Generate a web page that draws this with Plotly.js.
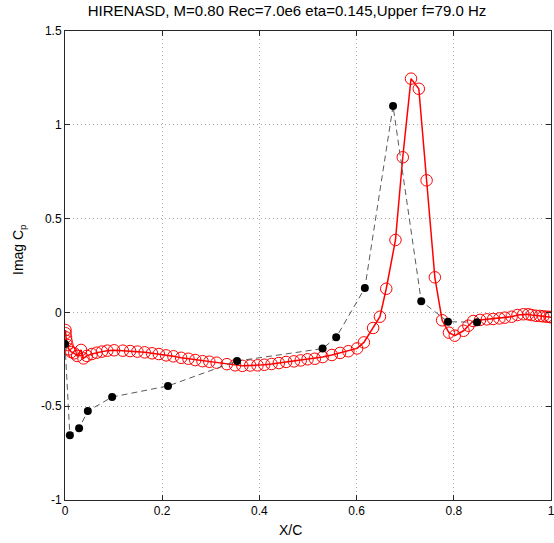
<!DOCTYPE html>
<html>
<head>
<meta charset="utf-8">
<script src="https://cdn.plot.ly/plotly-3.0.1.min.js"></script>
<style>html,body{margin:0;padding:0;background:#fff;}#chart{width:554px;height:543px;}</style>
</head>
<body>
<div id="chart"></div>
<script>
// Experimental data (black filled circles, dashed)
const expX = [0.000, 0.010, 0.029, 0.047, 0.097, 0.212, 0.354, 0.530, 0.558, 0.617, 0.675, 0.733, 0.788, 0.848];
const expY = [-0.168, -0.655, -0.617, -0.526, -0.451, -0.392, -0.259, -0.193, -0.133, 0.130, 1.100, 0.060, -0.050, -0.052];

// Computed data (red open circles, solid)
const cfdX = [0.001, 0.001, 0.002, 0.003, 0.005, 0.008, 0.013, 0.019, 0.025, 0.033, 0.038, 0.045, 0.055, 0.065, 0.076, 0.087, 0.101,
  0.119, 0.134, 0.149, 0.164, 0.179, 0.193, 0.208, 0.223, 0.239, 0.254, 0.268, 0.283, 0.297, 0.312, 0.333,
  0.350, 0.365, 0.381, 0.396, 0.410, 0.425, 0.440, 0.455, 0.471, 0.485, 0.499, 0.514, 0.530, 0.549, 0.566, 0.583,
  0.601, 0.615, 0.634, 0.648, 0.661, 0.680, 0.695, 0.712, 0.728, 0.744, 0.761, 0.776, 0.790, 0.802, 0.820, 0.830,
  0.840, 0.854, 0.868, 0.881, 0.894, 0.905, 0.919, 0.931, 0.943, 0.953, 0.960, 0.969, 0.977, 0.984, 0.991, 0.997, 1.000];
const cfdY = [-0.094, -0.111, -0.133, -0.152, -0.174, -0.197, -0.211, -0.218, -0.232, -0.200, -0.245, -0.232, -0.222, -0.215, -0.209, -0.204, -0.202,
  -0.204, -0.206, -0.209, -0.213, -0.218, -0.222, -0.229, -0.234, -0.242, -0.247, -0.254, -0.260, -0.263, -0.268, -0.276,
  -0.282, -0.285, -0.283, -0.282, -0.279, -0.275, -0.270, -0.264, -0.261, -0.256, -0.250, -0.247, -0.238, -0.227, -0.216, -0.207,
  -0.192, -0.160, -0.083, -0.023, 0.126, 0.386, 0.827, 1.246, 1.192, 0.704, 0.187, -0.042, -0.108, -0.124, -0.098, -0.071,
  -0.046, -0.040, -0.037, -0.035, -0.032, -0.028, -0.023, -0.014, -0.010, -0.010, -0.014, -0.018, -0.019, -0.021, -0.023, -0.024, -0.026];

const xTicks = [0, 0.2, 0.4, 0.6, 0.8, 1];
const xTickText = ['0', '0.2', '0.4', '0.6', '0.8', '1'];
const yTicks = [-1, -0.5, 0, 0.5, 1, 1.5];
const yTickText = ['-1', '-0.5', '0', '0.5', '1', '1.5'];

const FONT = 'Liberation Sans, Arial, sans-serif';

const traces = [
  {
    x: cfdX, y: cfdY, type: 'scatter', mode: 'lines+markers',
    line: {color: 'rgb(255,0,0)', width: 1.5},
    marker: {symbol: 'circle-open', size: 11.5, color: 'rgb(255,0,0)', line: {width: 1, color: 'rgb(255,0,0)'}},
    hoverinfo: 'skip', showlegend: false
  },
  {
    x: expX, y: expY, type: 'scatter', mode: 'lines+markers',
    line: {color: 'rgb(90,90,90)', width: 1, dash: '6px,4px'},
    marker: {symbol: 'circle', size: 8, color: 'rgb(0,0,0)'},
    hoverinfo: 'skip', showlegend: false
  }
];

const axisCommon = {
  showgrid: true, gridcolor: 'rgb(170,170,170)', griddash: '1px,3px', gridwidth: 1,
  zeroline: false, showline: true, linecolor: 'rgb(40,40,40)', linewidth: 1,
  mirror: 'ticks', ticks: 'inside', ticklen: 5, tickcolor: 'rgb(40,40,40)',
  ticklabeloverflow: 'allow',
  tickfont: {family: FONT, size: 12, color: '#000'}
};

const layout = {
  width: 554, height: 543,
  margin: {l: 65, r: 3, t: 31, b: 43},
  paper_bgcolor: '#fff', plot_bgcolor: '#fff',
  title: {
    text: 'HIRENASD, M=0.80 Rec=7.0e6 eta=0.145,Upper f=79.0 Hz',
    font: {family: FONT, size: 15, color: '#000'},
    x: 287 / 554, xref: 'container', xanchor: 'center', y: 1, yref: 'container', yanchor: 'top', pad: {t: 5}
  },
  xaxis: Object.assign({}, axisCommon, {
    range: [0, 1], tickvals: xTicks, ticktext: xTickText
  }),
  yaxis: Object.assign({}, axisCommon, {
    range: [-1, 1.5], tickvals: yTicks, ticktext: yTickText
  }),
  annotations: [
    {text: 'X/C', xref: 'paper', yref: 'paper', x: (290 - 65) / 486, y: (500 - 530) / 469,
     xanchor: 'center', yanchor: 'middle', showarrow: false, font: {family: FONT, size: 14, color: '#000'}},
    {text: 'Imag C<sub>p</sub>', xref: 'paper', yref: 'paper', x: (19 - 65) / 486, y: (500 - 250) / 469,
     xanchor: 'center', yanchor: 'middle', textangle: -90, showarrow: false, font: {family: FONT, size: 14, color: '#000'}}
  ],
  showlegend: false
};

Plotly.newPlot('chart', traces, layout, {displayModeBar: false, staticPlot: true});
</script>
</body>
</html>
